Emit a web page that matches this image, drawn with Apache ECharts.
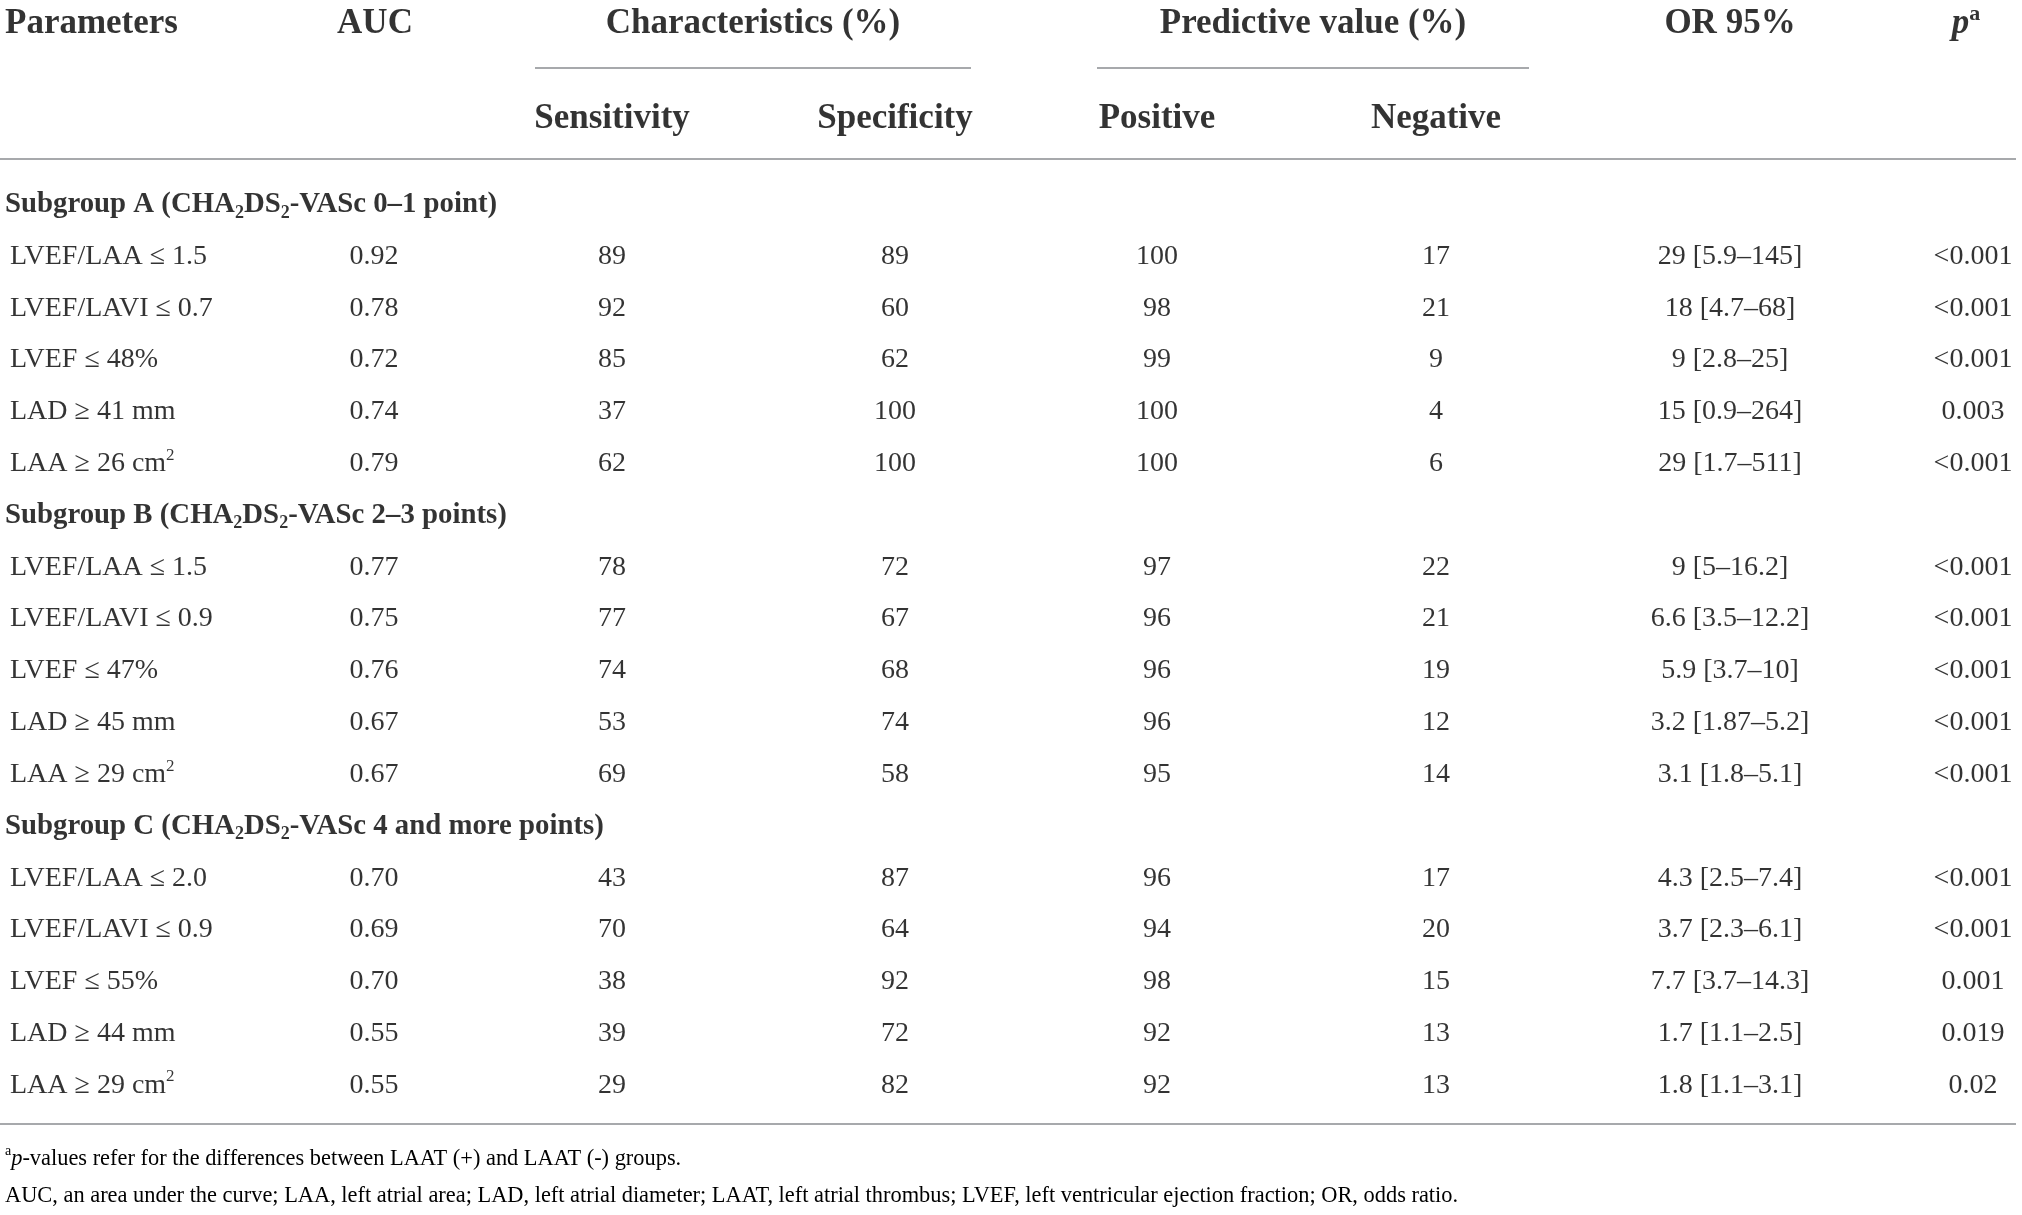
<!DOCTYPE html>
<html>
<head>
<meta charset="utf-8">
<script src="https://cdn.jsdelivr.net/npm/echarts@6/dist/echarts.min.js"></script>
<style>
html, body { margin: 0; padding: 0; background: #fff; }
#chart { width: 2022px; height: 1215px; }
</style>
</head>
<body>
<div id="chart"></div>
<script>
// column headings
var topHeaders = ['Parameters', 'AUC', 'Characteristics (%)', 'Predictive value (%)', 'OR 95%', '{pi|p}{sup|a}'];
var subHeaders = ['Sensitivity', 'Specificity', 'Positive', 'Negative'];

// subgroup titles
var groups = [
    'Subgroup A (CHA{sub|2}DS{sub|2}-VASc 0–1 point)',
    'Subgroup B (CHA{sub|2}DS{sub|2}-VASc 2–3 points)',
    'Subgroup C (CHA{sub|2}DS{sub|2}-VASc 4 and more points)'
];

// one entry per parameter row, 5 rows per subgroup
var parameters = [
    'LVEF/LAA ≤ 1.5', 'LVEF/LAVI ≤ 0.7', 'LVEF ≤ 48%', 'LAD ≥ 41 mm', 'LAA ≥ 26 cm{sup|2}',
    'LVEF/LAA ≤ 1.5', 'LVEF/LAVI ≤ 0.9', 'LVEF ≤ 47%', 'LAD ≥ 45 mm', 'LAA ≥ 29 cm{sup|2}',
    'LVEF/LAA ≤ 2.0', 'LVEF/LAVI ≤ 0.9', 'LVEF ≤ 55%', 'LAD ≥ 44 mm', 'LAA ≥ 29 cm{sup|2}'
];
var auc = [0.92, 0.78, 0.72, 0.74, 0.79, 0.77, 0.75, 0.76, 0.67, 0.67, 0.70, 0.69, 0.70, 0.55, 0.55];
var sensitivity = [89, 92, 85, 37, 62, 78, 77, 74, 53, 69, 43, 70, 38, 39, 29];
var specificity = [89, 60, 62, 100, 100, 72, 67, 68, 74, 58, 87, 64, 92, 72, 82];
var positive = [100, 98, 99, 100, 100, 97, 96, 96, 96, 95, 96, 94, 98, 92, 92];
var negative = [17, 21, 9, 4, 6, 22, 21, 19, 12, 14, 17, 20, 15, 13, 13];
var oddsRatio = [
    '29 [5.9–145]', '18 [4.7–68]', '9 [2.8–25]', '15 [0.9–264]', '29 [1.7–511]',
    '9 [5–16.2]', '6.6 [3.5–12.2]', '5.9 [3.7–10]', '3.2 [1.87–5.2]', '3.1 [1.8–5.1]',
    '4.3 [2.5–7.4]', '3.7 [2.3–6.1]', '7.7 [3.7–14.3]', '1.7 [1.1–2.5]', '1.8 [1.1–3.1]'
];
var pValues = [
    '<0.001', '<0.001', '<0.001', '0.003', '<0.001',
    '<0.001', '<0.001', '<0.001', '<0.001', '<0.001',
    '<0.001', '<0.001', '0.001', '0.019', '0.02'
];

var footnotes = [
    '{sup|a}{i|p}-values refer for the differences between LAAT (+) and LAAT (-) groups.',
    'AUC, an area under the curve; LAA, left atrial area; LAD, left atrial diameter; LAAT, left atrial thrombus; LVEF, left ventricular ejection fraction; OR, odds ratio.'
];

// layout
var FONT = 'Liberation Serif';
var INK = '#000';
var RULE = '#a7a9ac';
var colX = { group: 5, param: 10, auc: 374, sens: 612, spec: 895, pos: 1157, neg: 1436, or: 1730, p: 1973 };
var headX = [5, 375, 753, 1313, 1730, 1966];

function richFor(size, weight) {
    var small = Math.round(size * 0.62);
    return {
        sub: { fontFamily: FONT, fontSize: small, fontWeight: weight, color: INK, verticalAlign: 'bottom', lineHeight: small },
        sup: { fontFamily: FONT, fontSize: small, fontWeight: weight, color: INK, verticalAlign: 'top', lineHeight: small },
        pi: { fontFamily: FONT, fontSize: size, fontWeight: weight, fontStyle: 'italic', color: INK, lineHeight: size + 6 },
        i: { fontFamily: FONT, fontSize: size, fontWeight: weight, fontStyle: 'italic', color: INK, lineHeight: size + 6 }
    };
}

function textLabel(size, weight, align) {
    return {
        show: true,
        position: align === 'left' ? 'right' : 'inside',
        distance: 0,
        align: align,
        verticalAlign: 'middle',
        fontFamily: FONT,
        fontSize: size,
        fontWeight: weight,
        color: INK,
        textBorderWidth: 0,
        lineHeight: size + 6,
        rich: richFor(size, weight),
        formatter: function (p) { return p.name; }
    };
}

// body rows: a title row then 5 parameter rows per subgroup
var rowKeys = [];
var groupRows = [];
var paramRows = [];
for (var g = 0; g < groups.length; g++) {
    groupRows.push('r' + rowKeys.length);
    rowKeys.push('r' + rowKeys.length);
    for (var k = 0; k < 5; k++) {
        paramRows.push('r' + rowKeys.length);
        rowKeys.push('r' + rowKeys.length);
    }
}

function columnData(x, values, fmt) {
    return values.map(function (v, i) {
        return { value: [x, paramRows[i]], name: fmt ? fmt(v) : String(v) };
    });
}

function textSeries(name, data, gridIdx, size, weight, align) {
    return {
        name: name,
        type: 'scatter',
        xAxisIndex: gridIdx,
        yAxisIndex: gridIdx,
        symbolSize: 0,
        silent: true,
        label: textLabel(size, weight, align),
        data: data
    };
}

var HEAD = 35, BODY = 28, GROUP = 28.8;

var series = [
    textSeries('top', topHeaders.map(function (t, i) {
        var d = { value: [headX[i], 'top'], name: t };
        if (i === 0) d.label = { position: 'right', align: 'left' };
        return d;
    }), 0, HEAD, 'bold', 'center'),
    textSeries('sub', subHeaders.map(function (t, i) {
        return { value: [[colX.sens, colX.spec, colX.pos, colX.neg][i], 'sub'], name: t };
    }), 0, HEAD, 'bold', 'center'),
    textSeries('groups', groups.map(function (t, i) {
        return { value: [colX.group, groupRows[i]], name: t };
    }), 1, GROUP, 'bold', 'left'),
    textSeries('parameters', columnData(colX.param, parameters), 1, BODY, 'normal', 'left'),
    textSeries('AUC', columnData(colX.auc, auc, function (v) { return v.toFixed(2); }), 1, BODY, 'normal', 'center'),
    textSeries('Sensitivity', columnData(colX.sens, sensitivity), 1, BODY, 'normal', 'center'),
    textSeries('Specificity', columnData(colX.spec, specificity), 1, BODY, 'normal', 'center'),
    textSeries('Positive', columnData(colX.pos, positive), 1, BODY, 'normal', 'center'),
    textSeries('Negative', columnData(colX.neg, negative), 1, BODY, 'normal', 'center'),
    textSeries('OR', columnData(colX.or, oddsRatio), 1, BODY, 'normal', 'center'),
    textSeries('p', columnData(colX.p, pValues), 1, BODY, 'normal', 'center')
];

function rule(x1, x2, y) {
    return { type: 'line', shape: { x1: x1, y1: y, x2: x2, y2: y }, style: { stroke: RULE, lineWidth: 2 }, silent: true };
}

function note(text, y) {
    return {
        type: 'text', x: 5, y: y, silent: true,
        style: {
            text: text, fontFamily: FONT, fontSize: 22.4, fill: INK,
            verticalAlign: 'middle', lineHeight: 29, rich: richFor(22.4, 'normal')
        }
    };
}

var chart = echarts.init(document.getElementById('chart'));
chart.setOption({
    animation: false,
    backgroundColor: '#fff',
    grid: [
        { left: 0, right: 0, top: 23.5, height: 95 },
        { left: 0, right: 0, top: 204.5, height: 881 }
    ],
    xAxis: [
        { type: 'value', min: 0, max: 2022, gridIndex: 0, show: false },
        { type: 'value', min: 0, max: 2022, gridIndex: 1, show: false }
    ],
    yAxis: [
        { type: 'category', data: ['top', 'sub'], boundaryGap: false, inverse: true, gridIndex: 0, show: false },
        { type: 'category', data: rowKeys, boundaryGap: false, inverse: true, gridIndex: 1, show: false }
    ],
    series: series,
    graphic: [
        rule(535, 971, 68),
        rule(1097, 1529, 68),
        rule(0, 2016, 159),
        rule(0, 2016, 1124),
        note(footnotes[0], 1159),
        note(footnotes[1], 1196)
    ]
});
</script>
</body>
</html>
